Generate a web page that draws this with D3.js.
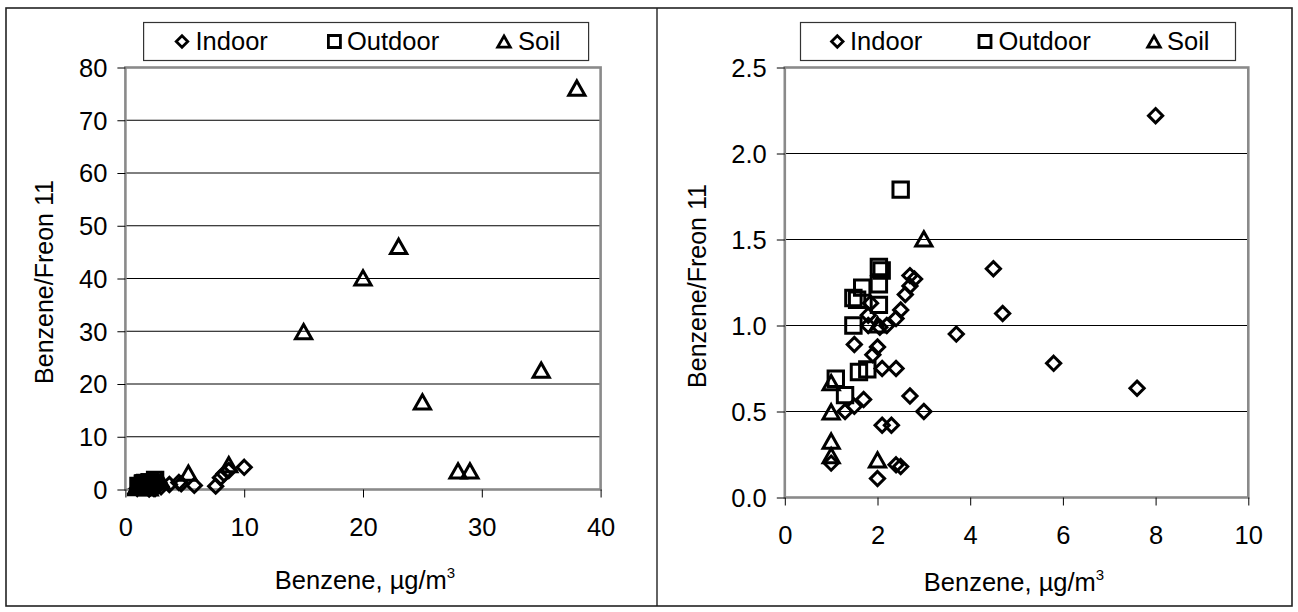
<!DOCTYPE html>
<html>
<head>
<meta charset="utf-8">
<script src="https://cdn.jsdelivr.net/npm/d3@7"></script>
<style>
  html, body { margin: 0; padding: 0; background: #fff; }
  svg text { font-family: "Liberation Sans", Arial, sans-serif; fill: #000; }
</style>
</head>
<body>
<svg id="chart" width="1298" height="612"></svg>
<script>
// Benzene concentration vs. Benzene/Freon 11 ratio, by sample location
const seriesNames = ["Indoor", "Outdoor", "Soil"];

const indoorPoints = [
  [8.0, 2.22], [4.5, 1.33], [4.7, 1.07], [3.7, 0.95], [5.8, 0.78], [7.6, 0.635],
  [3.0, 0.50], [2.7, 0.59], [2.4, 0.75], [2.1, 0.75], [2.0, 0.875], [1.9, 0.83],
  [1.5, 0.89], [1.7, 0.57], [1.5, 0.53], [1.3, 0.50], [2.1, 0.42], [2.3, 0.42],
  [2.4, 0.19], [2.5, 0.18], [2.0, 0.11], [1.0, 0.20],
  [2.7, 1.29], [2.8, 1.27], [2.7, 1.23], [2.6, 1.18], [2.5, 1.09], [2.4, 1.04],
  [2.2, 1.0], [1.85, 1.13], [1.8, 1.06], [1.8, 1.0], [2.05, 0.99],
  [8.3, 3.0], [8.7, 3.6], [10.0, 4.2]
];

const outdoorPoints = [
  [2.5, 1.79], [2.03, 1.34], [2.09, 1.32], [1.67, 1.22], [2.03, 1.24], [1.48, 1.16],
  [1.56, 1.15], [2.03, 1.12], [1.48, 1.0], [1.6, 0.73], [1.78, 0.745], [1.1, 0.69],
  [1.3, 0.595]
];

const soilPoints = [
  [1.0, 0.665], [1.0, 0.495], [1.0, 0.325], [1.0, 0.24], [2.0, 0.215], [2.0, 1.0],
  [3.0, 1.5], [5.3, 3.0], [8.7, 4.6], [15, 29.8], [20, 40], [23, 46], [25, 16.5],
  [28, 3.4], [29, 3.4], [35, 22.5], [38, 76]
];

const leftXTicks = [0, 10, 20, 30, 40];
const leftYTicks = [0, 10, 20, 30, 40, 50, 60, 70, 80];
const rightXTicks = [0, 2, 4, 6, 8, 10];
const rightYTicks = [0, 0.5, 1.0, 1.5, 2.0, 2.5];

const xTitle = "Benzene, µg/m";
const yTitle = "Benzene/Freon 11";

// Marker shapes as d3 symbol types (square rotated 45° for the diamond)
const symDiamond = { draw(ctx, size) { const h = Math.sqrt(size) / 2;
  ctx.moveTo(0, -h); ctx.lineTo(h, 0); ctx.lineTo(0, h); ctx.lineTo(-h, 0); ctx.closePath(); } };
const symSquare = { draw(ctx, size) { const h = Math.sqrt(size) / 2;
  ctx.moveTo(-h, -h); ctx.lineTo(h, -h); ctx.lineTo(h, h); ctx.lineTo(-h, h); ctx.closePath(); } };
const symTriangle = { draw(ctx, size) { const h = Math.sqrt(size) / 2;
  ctx.moveTo(0, -h * 1.0); ctx.lineTo(h * 1.05, h * 0.85); ctx.lineTo(-h * 1.05, h * 0.85); ctx.closePath(); } };

const svg = d3.select("#chart");

// outer frame and panel divider
svg.append("rect").attr("x", 6).attr("y", 8).attr("width", 1286).attr("height", 598)
  .attr("fill", "none").attr("stroke", "#222").attr("stroke-width", 1.6);
svg.append("line").attr("x1", 657).attr("x2", 657).attr("y1", 8).attr("y2", 606)
  .attr("stroke", "#222").attr("stroke-width", 1.4);

function drawPanel(cfg) {
  const g = svg.append("g");
  const x = d3.scaleLinear().domain(cfg.xDomain).range(cfg.xRange);
  const y = d3.scaleLinear().domain(cfg.yDomain).range(cfg.yRange);

  // horizontal gridlines
  g.selectAll(".grid").data(cfg.yTicks.slice(1, -1)).enter().append("line")
    .attr("x1", cfg.xRange[0]).attr("x2", cfg.xRange[1])
    .attr("y1", d => y(d)).attr("y2", d => y(d))
    .attr("stroke", "#000").attr("stroke-width", 1);

  // plot area border
  g.append("rect")
    .attr("x", cfg.xRange[0]).attr("y", cfg.yRange[1])
    .attr("width", cfg.xRange[1] - cfg.xRange[0]).attr("height", cfg.yRange[0] - cfg.yRange[1])
    .attr("fill", "none").attr("stroke", "#8a8a8a").attr("stroke-width", 2.6);

  // axes
  const yAxis = d3.axisLeft(y).tickValues(cfg.yTicks).tickSize(8).tickPadding(10)
    .tickFormat(cfg.yFormat);
  const yg = g.append("g").attr("transform", `translate(${cfg.xRange[0]},0)`).call(yAxis);
  yg.select(".domain").remove();
  yg.selectAll("line").attr("stroke", "#000");
  yg.selectAll("text").style("font-size", "25.5px").attr("dy", "0.35em");

  const xAxis = d3.axisBottom(x).tickValues(cfg.xTicks).tickSize(8).tickPadding(0)
    .tickFormat(d3.format("d"));
  const xg = g.append("g").attr("transform", `translate(0,${cfg.yRange[0]})`).call(xAxis);
  xg.select(".domain").remove();
  xg.selectAll("line").attr("stroke", "#000");
  xg.selectAll("text").style("font-size", "25.5px").attr("y", cfg.xLabelOffset).attr("dy", 0);

  // axis titles
  const xt = g.append("text").attr("x", cfg.xTitleX).attr("y", cfg.xTitleY)
    .attr("text-anchor", "middle").style("font-size", "25.5px");
  xt.append("tspan").text(xTitle);
  xt.append("tspan").text("3").attr("dy", -11).style("font-size", "15px");

  g.append("text")
    .attr("transform", `translate(${cfg.yTitleX},${cfg.yTitleY}) rotate(-90)`)
    .attr("text-anchor", "middle").style("font-size", "25px").text(yTitle);

  // markers, clipped to the axis ranges
  const inside = p => p[0] >= cfg.xDomain[0] && p[0] <= cfg.xDomain[1] &&
                      p[1] >= cfg.yDomain[0] && p[1] <= cfg.yDomain[1];
  const series = [
    { pts: indoorPoints, sym: symDiamond, size: 14.2 * 14.2 },
    { pts: outdoorPoints, sym: symSquare, size: 15.4 * 15.4 },
    { pts: soilPoints, sym: symTriangle, size: 15.4 * 15.4 }
  ];
  series.forEach(s => {
    g.append("g").selectAll("path").data(s.pts.filter(inside)).enter().append("path")
      .attr("d", d3.symbol().type(s.sym).size(s.size))
      .attr("transform", d => `translate(${x(d[0])},${y(d[1])})`)
      .attr("fill", "none").attr("stroke", "#000").attr("stroke-width", 3)
      .attr("stroke-linejoin", "miter");
  });

  // legend
  const lg = g.append("g");
  lg.append("rect").attr("x", cfg.legend.x).attr("y", 22.5)
    .attr("width", cfg.legend.w).attr("height", 38)
    .attr("fill", "#fff").attr("stroke", "#333").attr("stroke-width", 1.2);
  const legSyms = [symDiamond, symSquare, symTriangle];
  const legSizes = [11.5 * 11.5, 12 * 12, 12 * 12];
  seriesNames.forEach((name, i) => {
    const mx = cfg.legend.markers[i];
    lg.append("path").attr("d", d3.symbol().type(legSyms[i]).size(legSizes[i]))
      .attr("transform", `translate(${mx},${i === 2 ? 42 : 41.5})`)
      .attr("fill", "none").attr("stroke", "#000").attr("stroke-width", 2.8);
    lg.append("text").attr("x", cfg.legend.texts[i]).attr("y", 50)
      .style("font-size", "25.5px").text(name);
  });
}

drawPanel({
  xDomain: [0, 40], xRange: [125.4, 600.6],
  yDomain: [0, 80], yRange: [489.5, 67.5],
  xTicks: leftXTicks, yTicks: leftYTicks, yFormat: d3.format("d"),
  xLabelOffset: 46,
  xTitleX: 365, xTitleY: 589,
  yTitleX: 53, yTitleY: 282,
  legend: { x: 143.6, w: 445, markers: [182, 334.4, 504], texts: [195.5, 347, 518] }
});

drawPanel({
  xDomain: [0, 10], xRange: [784.8, 1248.3],
  yDomain: [0, 2.5], yRange: [497.5, 67.5],
  xTicks: rightXTicks, yTicks: rightYTicks, yFormat: d3.format(".1f"),
  xLabelOffset: 46,
  xTitleX: 1014, xTitleY: 591,
  yTitleX: 706, yTitleY: 286,
  legend: { x: 800.5, w: 435, markers: [837.3, 985, 1154], texts: [850, 998.5, 1167] }
});
</script>
</body>
</html>
